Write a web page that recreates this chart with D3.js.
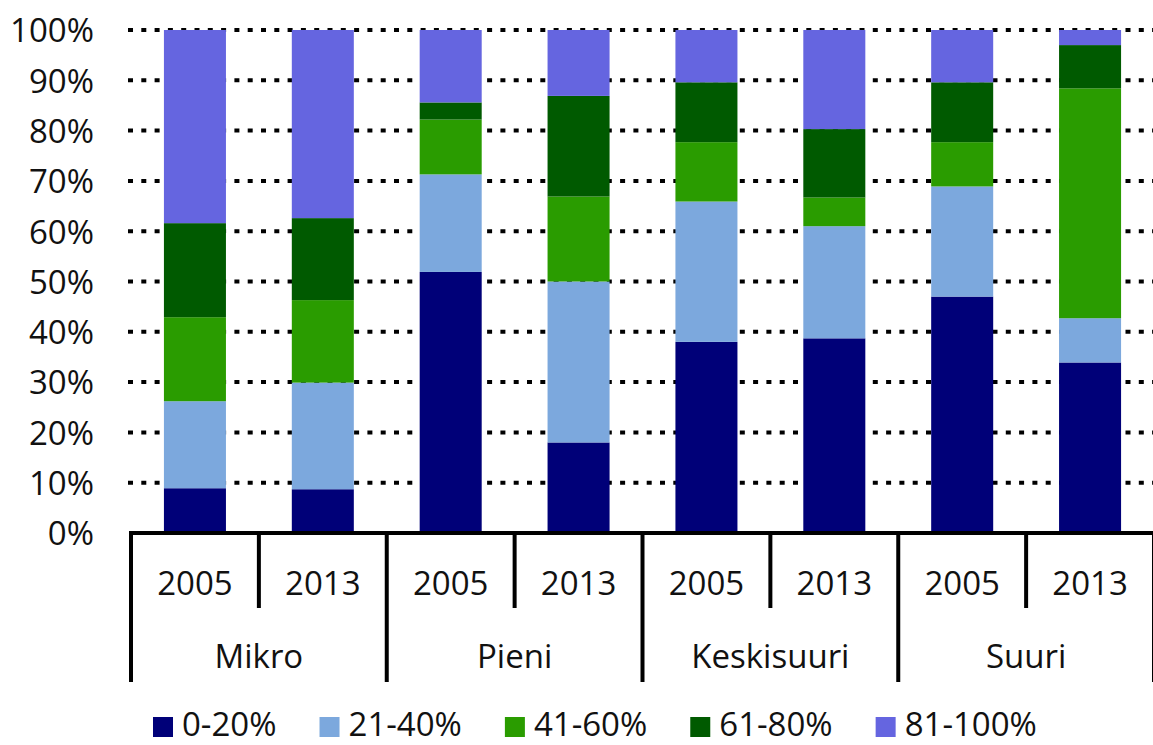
<!DOCTYPE html>
<html>
<head>
<meta charset="utf-8">
<script src="https://cdn.jsdelivr.net/npm/d3@7"></script>
<style>
  html, body { margin: 0; padding: 0; background: #fff; }
  svg { display: block; }
  text { font-family: "Open Sans", "Noto Sans", sans-serif; fill: #111; }
</style>
</head>
<body>
<svg id="chart" width="1153" height="745"></svg>
<script>
// Company size groups and survey years
const groups = ["Mikro", "Pieni", "Keskisuuri", "Suuri"];
const years = ["2005", "2013"];
const seriesNames = ["0-20%", "21-40%", "41-60%", "61-80%", "81-100%"];
const seriesColors = ["#000078", "#7ca8dd", "#2a9c00", "#005a00", "#6565e0"];
const yTicks = [0, 10, 20, 30, 40, 50, 60, 70, 80, 90, 100];

// Share (%) of each class, one value per group/year bar
const s0_20   = [8.9, 8.7, 51.9, 18.0, 38.0, 38.7, 47.0, 33.9];
const s21_40  = [17.3, 21.2, 19.4, 32.0, 27.9, 22.3, 21.9, 8.8];
const s41_60  = [16.7, 16.4, 10.9, 16.9, 11.8, 5.7, 8.8, 45.7];
const s61_80  = [18.7, 16.3, 3.4, 20.0, 11.9, 13.6, 11.9, 8.6];
const s81_100 = [38.4, 37.4, 14.4, 13.1, 10.4, 19.7, 10.4, 3.0];

const seriesValues = [s0_20, s21_40, s41_60, s61_80, s81_100];

// Build one row per bar
const rows = [];
groups.forEach((g, gi) => {
  years.forEach((yr, yi) => {
    const idx = gi * years.length + yi;
    const row = { key: g + "|" + yr, group: g, year: yr };
    seriesNames.forEach((s, si) => { row[s] = seriesValues[si][idx]; });
    rows.push(row);
  });
});

const svg = d3.select("#chart");
const plotLeft = 131, plotRight = 1154, plotTop = 30, plotBottom = 533;

const x = d3.scaleBand()
  .domain(rows.map(d => d.key))
  .range([plotLeft, plotRight])
  .paddingInner(0.515)
  .paddingOuter(0.2575);

const y = d3.scaleLinear().domain([0, 100]).range([plotBottom, plotTop]);

const color = d3.scaleOrdinal().domain(seriesNames).range(seriesColors);

// Dotted horizontal gridlines
svg.append("g")
  .selectAll("line")
  .data(yTicks.filter(t => t > 0))
  .join("line")
  .attr("x1", 128)
  .attr("x2", 1153)
  .attr("y1", d => y(d))
  .attr("y2", d => y(d))
  .attr("stroke", "#000")
  .attr("stroke-width", 4)
  .attr("stroke-dasharray", "5,8.3");

// Y axis labels (no axis line)
const yAxis = d3.axisLeft(y)
  .tickValues(yTicks)
  .tickFormat(d => d + "%")
  .tickSize(0)
  .tickPadding(0);

const gy = svg.append("g")
  .attr("transform", "translate(94,0)")
  .call(yAxis);
gy.select(".domain").remove();
gy.selectAll("text")
  .attr("font-size", 33)
  .attr("dy", "0.36em")
  .style("font-family", "'Open Sans', 'Noto Sans', sans-serif")
  .attr("fill", "#111");

// Stacked bars
const stack = d3.stack().keys(seriesNames);
const layers = stack(rows);

svg.append("g")
  .selectAll("g")
  .data(layers)
  .join("g")
  .attr("fill", d => color(d.key))
  .selectAll("rect")
  .data(d => d)
  .join("rect")
  .attr("x", d => x(d.data.key))
  .attr("width", x.bandwidth())
  .attr("y", d => y(d[1]))
  .attr("height", d => y(d[0]) - y(d[1]));

// Category axis: baseline, separators and labels
const axis = svg.append("g");
const step = x.step();
const bandStart = k => x(k) - (step - x.bandwidth()) / 2;

axis.append("line")
  .attr("x1", plotLeft)
  .attr("x2", 1153)
  .attr("y1", plotBottom)
  .attr("y2", plotBottom)
  .attr("stroke", "#000")
  .attr("stroke-width", 4);

// Year separators (short) inside each group
const yearSeps = rows.filter(d => d.year !== years[0]).map(d => bandStart(d.key));
axis.selectAll("line.yearsep")
  .data(yearSeps)
  .join("line")
  .attr("class", "yearsep")
  .attr("x1", d => d).attr("x2", d => d)
  .attr("y1", plotBottom).attr("y2", 608)
  .attr("stroke", "#000")
  .attr("stroke-width", 4);

// Group separators (long)
const groupEdges = groups.map(g => bandStart(g + "|" + years[0])).concat([plotRight]);
axis.selectAll("line.groupsep")
  .data(groupEdges)
  .join("line")
  .attr("class", "groupsep")
  .attr("x1", d => d).attr("x2", d => d)
  .attr("y1", plotBottom - 2).attr("y2", 682)
  .attr("stroke", "#000")
  .attr("stroke-width", 4);

axis.selectAll("text.year")
  .data(rows)
  .join("text")
  .attr("class", "year")
  .attr("x", d => x(d.key) + x.bandwidth() / 2)
  .attr("y", 595)
  .attr("text-anchor", "middle")
  .attr("font-size", 33)
  .text(d => d.year);

axis.selectAll("text.group")
  .data(groups)
  .join("text")
  .attr("class", "group")
  .attr("x", g => (bandStart(g + "|" + years[0]) + bandStart(g + "|" + years[years.length - 1]) + step) / 2)
  .attr("y", 668)
  .attr("text-anchor", "middle")
  .attr("font-size", 33)
  .text(g => g);

// Legend along the bottom edge
const legend = svg.append("g");
let lx = 153;
seriesNames.forEach(s => {
  const item = legend.append("g").attr("transform", `translate(${lx},0)`);
  item.append("rect")
    .attr("x", 0).attr("y", 717)
    .attr("width", 20).attr("height", 20)
    .attr("fill", color(s));
  const t = item.append("text")
    .attr("x", 29).attr("y", 736)
    .attr("font-size", 33)
    .text(s);
  lx += 29 + t.node().getComputedTextLength() + 43;
});
</script>
</body>
</html>
